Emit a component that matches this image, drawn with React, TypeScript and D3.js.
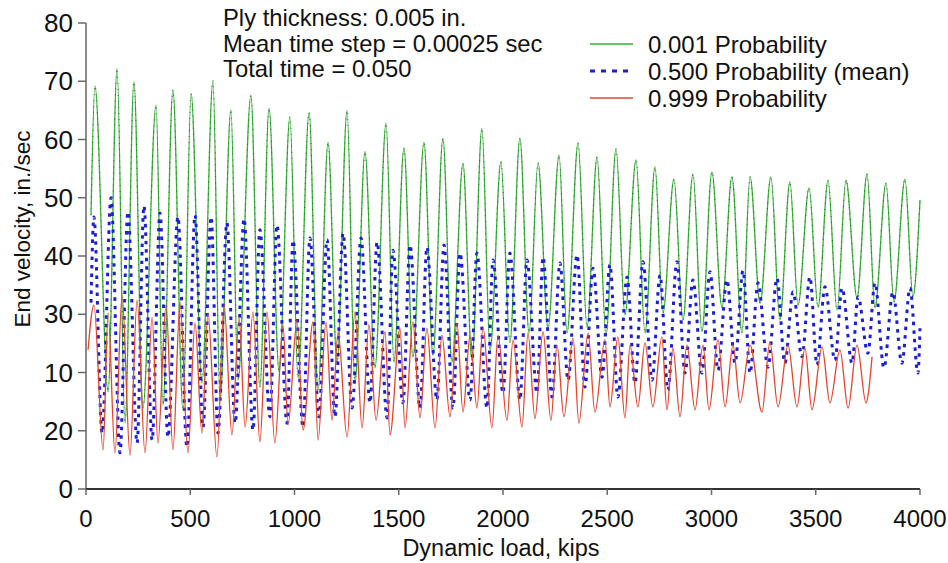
import React from 'react';
import * as d3 from 'd3';

const xTicks = [0, 500, 1000, 1500, 2000, 2500, 3000, 3500, 4000];
const yTicks = [0, 10, 20, 30, 40, 50, 60, 70, 80];
const yTickLabels = ['0', '20', '10', '30', '40', '50', '60', '70', '80'];
const annotationLines = ['Ply thickness: 0.005 in.', 'Mean time step = 0.00025 sec', 'Total time = 0.050'];
const legendLabels = ['0.001 Probability', '0.500 Probability (mean)', '0.999 Probability'];
const xTitle = 'Dynamic load, kips';
const yTitle = 'End velocity, in./sec';

// 0.001 probability (green): [load kips, velocity]
const greenSeries: [number, number][] = [
  [24, 47], [43, 69.2], [106, 16.7], [149, 72.2], [187, 11.3], [230, 69.9], [273, 13.9], [336, 65.9], [369, 14.4],
  [417, 68.5], [465, 13.6], [504, 67.9], [556, 18.2], [609, 70.1], [643, 15.3], [695, 65.1], [729, 18.7], [791, 67.6],
  [834, 17.5], [878, 65.4], [926, 20.1], [978, 63.9], [1017, 19.1], [1070, 64.6], [1113, 17.0], [1161, 59.5], [1204, 21.6],
  [1252, 65.0], [1290, 18.2], [1338, 57.9], [1386, 20.8], [1439, 62.8], [1477, 21.8], [1525, 58.5], [1568, 22.7],
  [1621, 59.5], [1664, 23.0], [1712, 60.2], [1755, 21.8], [1808, 55.9], [1851, 22.1], [1899, 61.9], [1938, 23.9],
  [1990, 56.2], [2033, 25.2], [2081, 60.2], [2125, 26.8], [2168, 56.0], [2216, 27.6], [2269, 57.3], [2307, 26.8],
  [2360, 59.4], [2403, 27.8], [2451, 57.0], [2494, 26.4], [2542, 58.4], [2585, 29.9], [2638, 56.5], [2681, 26.8],
  [2729, 55.3], [2767, 30.2], [2820, 53.2], [2863, 29.0], [2911, 54.1], [2954, 27.0], [3002, 54.4], [3050, 31.2],
  [3098, 53.6], [3146, 26.8], [3185, 53.6], [3233, 31.9], [3285, 53.6], [3328, 29.0], [3376, 52.7], [3415, 31.6],
  [3468, 51.7], [3511, 31.2], [3559, 53.0], [3602, 30.7], [3645, 53.0], [3698, 32.8], [3746, 54.1], [3784, 31.2],
  [3837, 52.5], [3875, 32.1], [3928, 53.2], [3966, 33.0], [4000, 49.6],
];

// 0.500 probability (mean, blue dotted)
const blueSeries: [number, number][] = [
  [24, 32], [38, 46.7], [77, 9.6], [120, 50.0], [163, 6.2], [201, 47.6], [245, 7.9], [278, 48.6], [317, 8.4],
  [355, 47.4], [393, 8.9], [441, 46.7], [484, 7.2], [523, 47.0], [561, 10.6], [600, 46.7], [633, 9.6], [676, 45.7],
  [715, 11.3], [758, 46.4], [801, 10.1], [834, 44.5], [882, 12.4], [916, 45.3], [964, 11.3], [993, 42.7], [1041, 10.6],
  [1074, 43.1], [1117, 12.4], [1156, 42.8], [1194, 12.4], [1233, 43.9], [1276, 13.9], [1319, 43.1], [1362, 14.8],
  [1396, 42.4], [1444, 12.2], [1472, 41.0], [1520, 14.8], [1554, 41.9], [1602, 13.9], [1635, 41.5], [1683, 15.3],
  [1717, 41.9], [1760, 13.9], [1794, 40.5], [1842, 15.3], [1875, 40.5], [1923, 13.9], [1952, 39.3], [2000, 16.5],
  [2033, 40.5], [2081, 15.3], [2115, 39.3], [2163, 16.5], [2192, 39.8], [2235, 15.8], [2273, 38.8], [2312, 18.7],
  [2355, 40.2], [2393, 17.5], [2432, 37.9], [2475, 19.2], [2513, 38.5], [2551, 15.8], [2595, 36.4], [2633, 18.2],
  [2671, 39.0], [2715, 18.7], [2753, 36.7], [2791, 17.0], [2834, 39.0], [2873, 19.9], [2911, 35.9], [2954, 19.9],
  [2993, 37.3], [3031, 20.4], [3074, 35.9], [3113, 21.6], [3151, 37.5], [3185, 19.9], [3223, 35.4], [3271, 20.9],
  [3314, 36.2], [3352, 21.6], [3391, 33.8], [3434, 22.7], [3472, 36.4], [3506, 21.3], [3544, 34.7], [3592, 22.1],
  [3626, 34.5], [3674, 21.6], [3703, 33.0], [3750, 23.3], [3784, 35.4], [3827, 20.8], [3870, 33.8], [3913, 21.6],
  [3952, 34.5], [3990, 19.9], [4000, 27.6],
];

// 0.999 probability (red)
const redSeries: [number, number][] = [
  [10, 23.9], [38, 31.6], [82, 6.7], [106, 30.2], [139, 6.2], [173, 33.3], [211, 5.8], [245, 32.4], [283, 6.2],
  [317, 29.5], [345, 7.9], [384, 31.6], [417, 6.7], [451, 32.1], [489, 6.2], [523, 28.5], [556, 9.6], [585, 30.2],
  [628, 5.5], [662, 31.6], [700, 9.3], [734, 29.5], [763, 10.6], [801, 30.4], [834, 8.1], [868, 30.4], [906, 7.9],
  [945, 28.2], [969, 11.0], [1012, 29.0], [1041, 10.1], [1089, 28.7], [1113, 8.4], [1151, 28.6], [1180, 11.8],
  [1209, 27.0], [1252, 8.9], [1290, 30.4], [1324, 10.5], [1357, 28.2], [1391, 11.8], [1434, 27.0], [1458, 9.3],
  [1506, 27.6], [1530, 10.5], [1568, 28.7], [1602, 12.2], [1635, 27.6], [1674, 10.5], [1707, 26.4], [1746, 12.4],
  [1779, 28.5], [1808, 13.2], [1842, 26.4], [1875, 13.9], [1904, 27.8], [1947, 10.5], [1976, 26.4], [2019, 11.8],
  [2048, 25.6], [2091, 10.6], [2120, 26.8], [2153, 12.1], [2192, 27.0], [2230, 11.8], [2259, 24.7], [2292, 12.4],
  [2336, 25.9], [2364, 11.3], [2408, 26.8], [2441, 13.2], [2489, 25.6], [2513, 14.1], [2551, 26.1], [2585, 12.2],
  [2609, 24.7], [2647, 14.1], [2681, 25.1], [2719, 14.1], [2762, 26.1], [2786, 13.6], [2815, 24.2], [2849, 12.4],
  [2882, 24.7], [2921, 13.6], [2959, 24.7], [2988, 13.6], [3031, 25.6], [3065, 14.1], [3103, 24.7], [3137, 14.8],
  [3185, 24.7], [3242, 13.2], [3280, 25.2], [3319, 14.1], [3367, 24.7], [3410, 14.1], [3448, 24.2], [3482, 13.6],
  [3530, 24.4], [3568, 14.8], [3616, 23.9], [3655, 13.9], [3698, 24.7], [3741, 14.8], [3770, 22.7],
];

const GREEN = '#35b235';
const BLUE = '#1a1fd6';
const RED = '#e4442c';
const FONT = 'Liberation Sans, Arial, sans-serif';

export default function App() {
  const W = 948;
  const H = 563;
  const x = d3.scaleLinear().domain([0, 4000]).range([86, 920]);
  const y = d3.scaleLinear().domain([0, 80]).range([489, 23]);
  const line = d3
    .line<[number, number]>()
    .x((d) => x(d[0]))
    .y((d) => y(d[1]))
    .curve(d3.curveMonotoneX);

  const legendY = [44, 71, 98];

  return (
    <svg
      width={W}
      height={H}
      style={{ position: 'absolute', left: 0, top: 0, background: '#fff' }}
      fontFamily={FONT}
    >
      <rect x={0} y={0} width={W} height={H} fill="#fff" />

      {/* series */}
      <path d={line(greenSeries) || ''} fill="none" stroke={GREEN} strokeWidth={1.3} />
      <path
        d={line(greenSeries) || ''}
        fill="none"
        stroke="#1e3f1e"
        strokeWidth={1.2}
        strokeDasharray="1 5"
        opacity={0.55}
      />
      <path d={line(blueSeries) || ''} fill="none" stroke={BLUE} strokeWidth={3} strokeDasharray="3.5 5" />
      <path d={line(redSeries) || ''} fill="none" stroke={RED} strokeWidth={1.3} />

      {/* y axis */}
      <line x1={x(0)} x2={x(0)} y1={y(80)} y2={y(0)} stroke="#8a8a8a" strokeWidth={2} />
      {yTicks.map((t, i) => (
        <g key={t}>
          <line x1={x(0) - 8} x2={x(0)} y1={y(t)} y2={y(t)} stroke="#6a6a6a" strokeWidth={1.5} />
          <text x={73} y={y(t) + 9} fontSize={26} textAnchor="end" fill="#111">
            {yTickLabels[i]}
          </text>
        </g>
      ))}

      {/* x axis */}
      <line x1={x(0)} x2={x(4000)} y1={y(0)} y2={y(0)} stroke="#333" strokeWidth={2} />
      {xTicks.map((t) => (
        <g key={t}>
          <line x1={x(t)} x2={x(t)} y1={y(0)} y2={y(0) + 6} stroke="#6a6a6a" strokeWidth={1.5} />
          <text x={x(t)} y={527} fontSize={24} textAnchor="middle" fill="#111">
            {t}
          </text>
        </g>
      ))}

      {/* axis titles */}
      <text x={501} y={556} fontSize={23.5} textAnchor="middle" fill="#111">
        {xTitle}
      </text>
      <text
        transform={`translate(30, 229) rotate(-90)`}
        fontSize={22.5}
        textAnchor="middle"
        fill="#111"
      >
        {yTitle}
      </text>

      {/* annotation */}
      {annotationLines.map((s, i) => (
        <text key={s} x={223} y={26 + i * 25.5} fontSize={23.8} fill="#111">
          {s}
        </text>
      ))}

      {/* legend */}
      <line x1={590} x2={633} y1={legendY[0]} y2={legendY[0]} stroke={GREEN} strokeWidth={1.6} />
      <line
        x1={590}
        x2={633}
        y1={legendY[1]}
        y2={legendY[1]}
        stroke={BLUE}
        strokeWidth={3}
        strokeDasharray="5 6"
      />
      <line x1={590} x2={633} y1={legendY[2]} y2={legendY[2]} stroke={RED} strokeWidth={1.6} />
      {legendLabels.map((s, i) => (
        <text key={s} x={648} y={legendY[i] + 8.5} fontSize={24} fill="#111">
          {s}
        </text>
      ))}
    </svg>
  );
}
